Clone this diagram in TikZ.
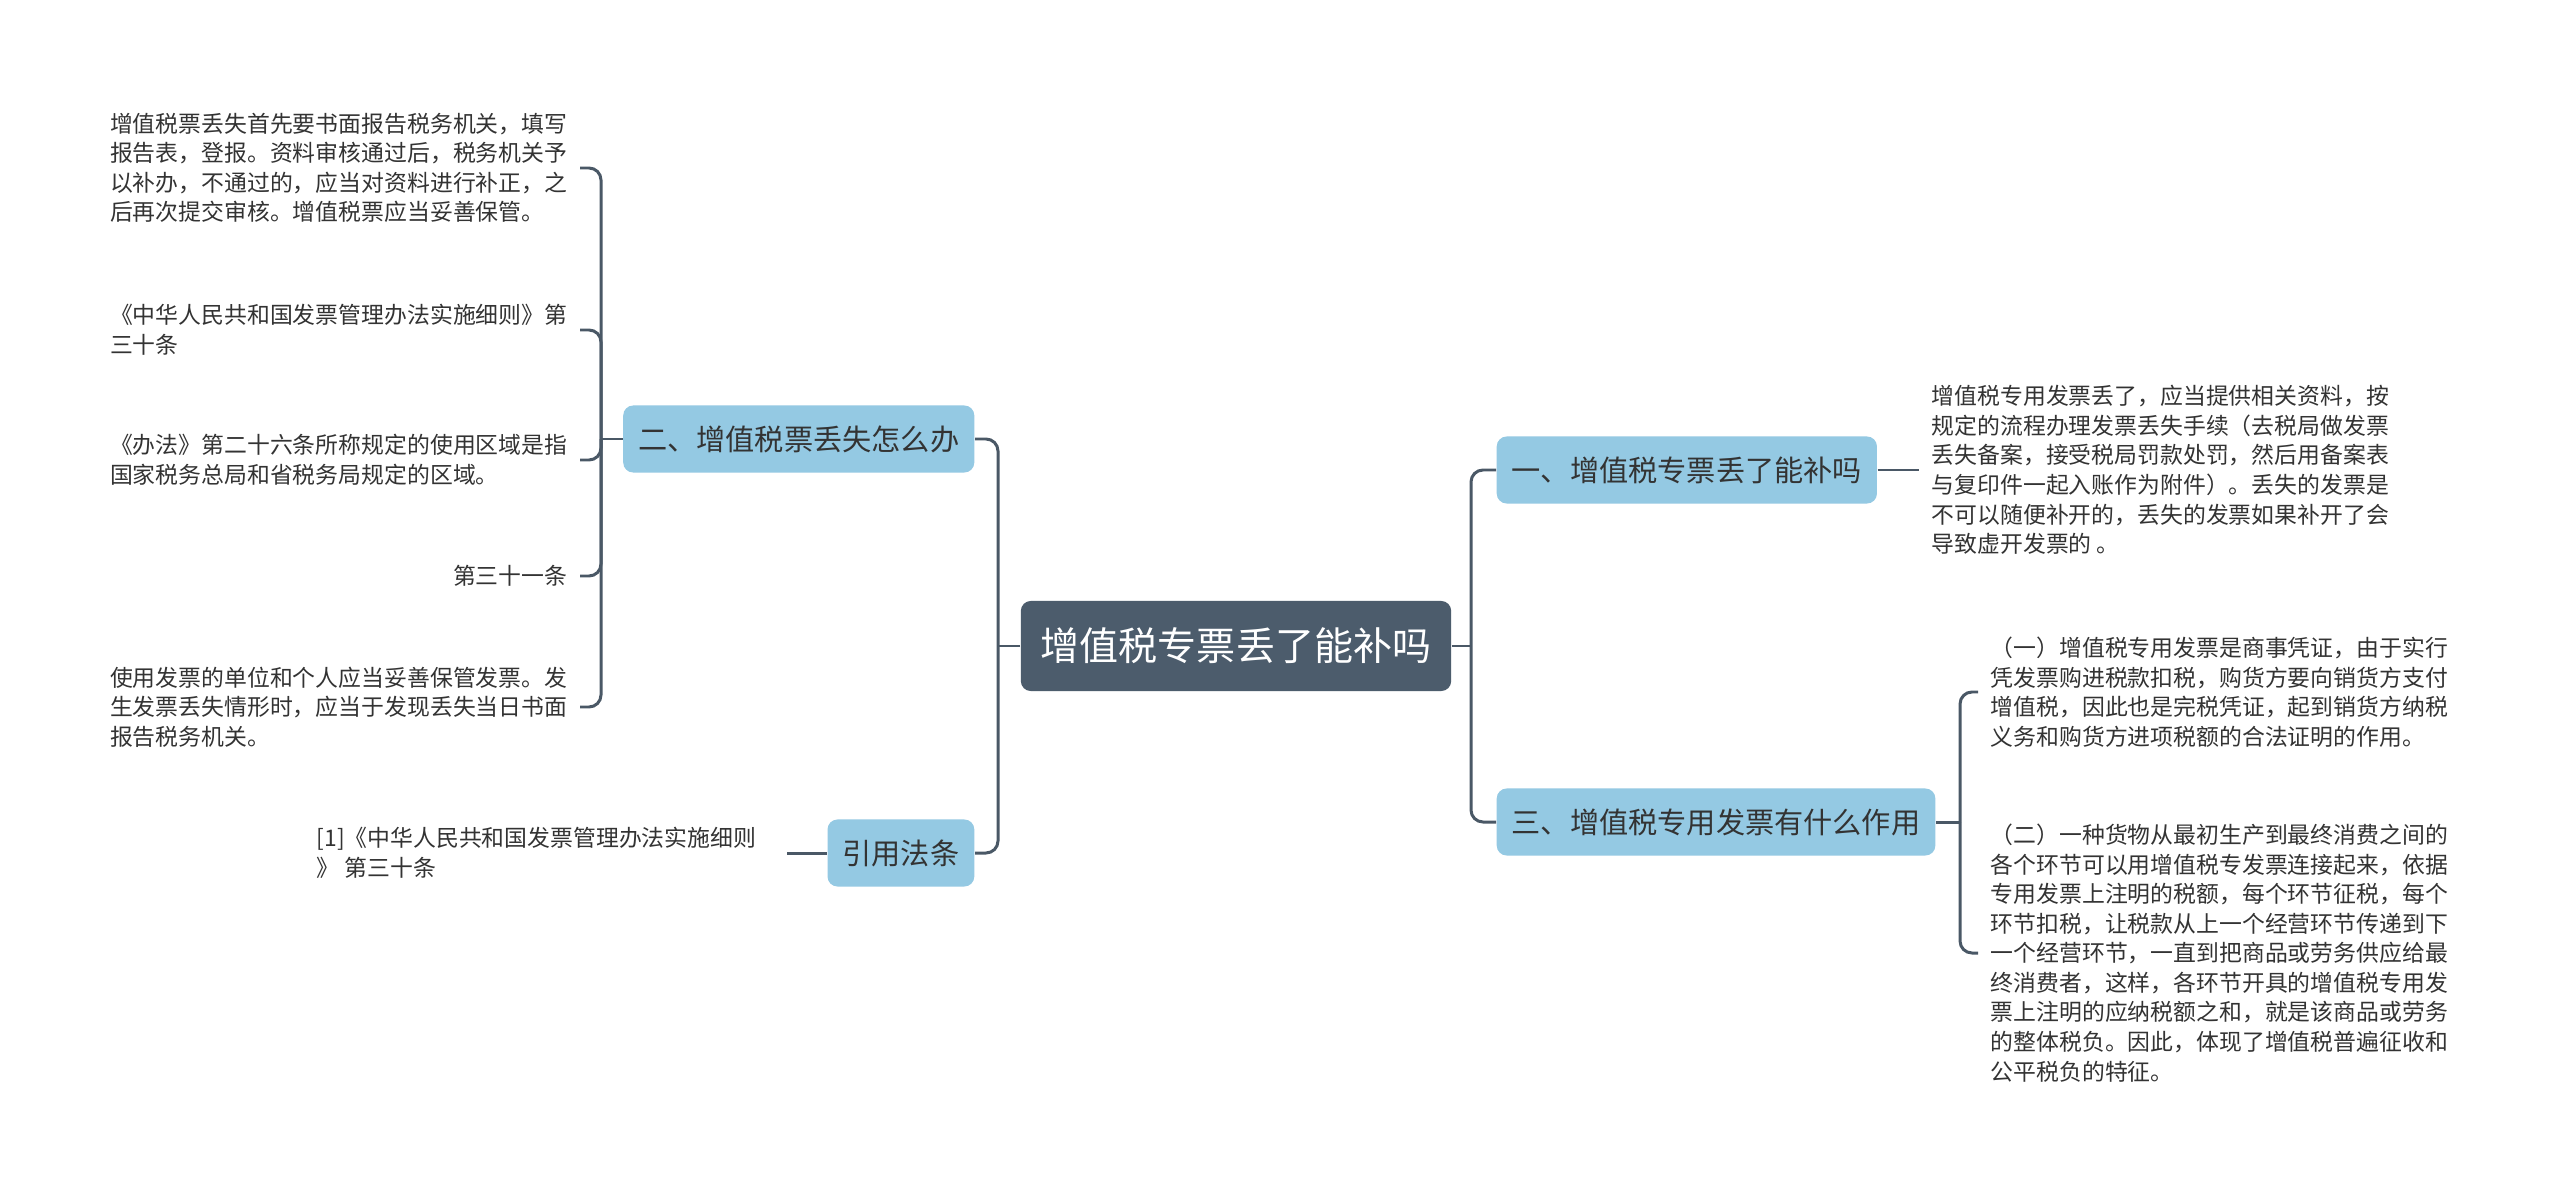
\documentclass[tikz,border=0pt]{standalone}
\usepackage{fontspec}
\setmainfont{Noto Sans CJK SC}
\definecolor{rootfill}{RGB}{76,92,108}
\definecolor{topicfill}{RGB}{148,201,227}
\definecolor{linkgray}{RGB}{74,88,102}
\definecolor{inkgray}{RGB}{51,51,51}
\newcommand\leaffont{\fontsize{6.5pt}{8.4pt}\selectfont}
\newcommand\topicfont{\fontsize{8.3pt}{10pt}\selectfont}
\newcommand\rootfont{\fontsize{11.1pt}{13pt}\selectfont}

\begin{document}
\begin{tikzpicture}[x=0.01cm,y=-0.01cm,
  root/.style={fill=rootfill,text=white,rounded corners=0.1cm,font=\rootfont,inner xsep=0.2cm,inner ysep=0pt,minimum height=0.9cm},
  topic/.style={fill=topicfill,text=inkgray,rounded corners=0.1cm,font=\topicfont,inner xsep=0.15cm,inner ysep=0pt,minimum height=0.67cm},
  leaf/.style={text=inkgray,font=\leaffont,align=left,inner sep=0.12cm},
  link/.style={draw=linkgray,line width=0.85pt,rounded corners=0.12cm}]
\useasboundingbox[fill=white] (0,0) rectangle (2560,1197);

\node[root] (root) at (1236,646) {增值税专票丢了能补吗};

\node[topic,anchor=east] (lost) at (975,439) {二、增值税票丢失怎么办};
\node[topic,anchor=east] (cite) at (975,853) {引用法条};
\node[topic,anchor=west] (refill) at (1496,470) {一、增值税专票丢了能补吗};
\node[topic,anchor=west] (usage) at (1496,822) {三、增值税专用发票有什么作用};

\node[leaf,anchor=east] (lostA) at (580,168) {增值税票丢失首先要书面报告税务机关，填写\\报告表，登报。资料审核通过后，税务机关予\\以补办，不通过的，应当对资料进行补正，之\\后再次提交审核。增值税票应当妥善保管。};
\node[leaf,anchor=east] (lostB) at (580,330) {《中华人民共和国发票管理办法实施细则》第\\三十条};
\node[leaf,anchor=east] (lostC) at (580,460) {《办法》第二十六条所称规定的使用区域是指\\国家税务总局和省税务局规定的区域。};
\node[leaf,anchor=east] (lostD) at (580,576) {第三十一条};
\node[leaf,anchor=east] (lostE) at (580,707) {使用发票的单位和个人应当妥善保管发票。发\\生发票丢失情形时，应当于发现丢失当日书面\\报告税务机关。};
\node[leaf,anchor=east,inner xsep=0.3cm] (citeA) at (787,853) {[1]《中华人民共和国发票管理办法实施细则\\》 第三十条};

\node[leaf,anchor=west] (refillA) at (1919,470) {增值税专用发票丢了，应当提供相关资料，按\\规定的流程办理发票丢失手续（去税局做发票\\丢失备案，接受税局罚款处罚，然后用备案表\\与复印件一起入账作为附件）。丢失的发票是\\不可以随便补开的，丢失的发票如果补开了会\\导致虚开发票的 。};
\node[leaf,anchor=west] (usageA) at (1978,692) {（一）增值税专用发票是商事凭证，由于实行\\凭发票购进税款扣税，购货方要向销货方支付\\增值税，因此也是完税凭证，起到销货方纳税\\义务和购货方进项税额的合法证明的作用。};
\node[leaf,anchor=west] (usageB) at (1978,953) {（二）一种货物从最初生产到最终消费之间的\\各个环节可以用增值税专发票连接起来，依据\\专用发票上注明的税额，每个环节征税，每个\\环节扣税，让税款从上一个经营环节传递到下\\一个经营环节，一直到把商品或劳务供应给最\\终消费者，这样，各环节开具的增值税专用发\\票上注明的应纳税额之和，就是该商品或劳务\\的整体税负。因此，体现了增值税普遍征收和\\公平税负的特征。};

\coordinate (jl) at (998,646);
\coordinate (jr) at (1471,646);
\coordinate (kl) at (601,439);
\coordinate (kr) at (1960,822);

\draw[link] (root.west) -- (jl);
\draw[link] (lost.east) -| (jl) |- (cite.east);
\draw[link] (root.east) -- (jr);
\draw[link] (refill.west) -| (jr) |- (usage.west);

\draw[link] (lost.west) -- (kl);
\draw[link] (kl) |- (lostA.east);
\draw[link] (kl) |- (lostB.east);
\draw[link] (kl) |- (lostC.east);
\draw[link] (kl) |- (lostD.east);
\draw[link] (kl) |- (lostE.east);
\draw[link] (cite.west) -- (citeA.east);

\draw[link] (refill.east) -- (refillA.west);
\draw[link] (usage.east) -- (kr);
\draw[link] (kr) |- (usageA.west);
\draw[link] (kr) |- (usageB.west);
\end{tikzpicture}
\end{document}
